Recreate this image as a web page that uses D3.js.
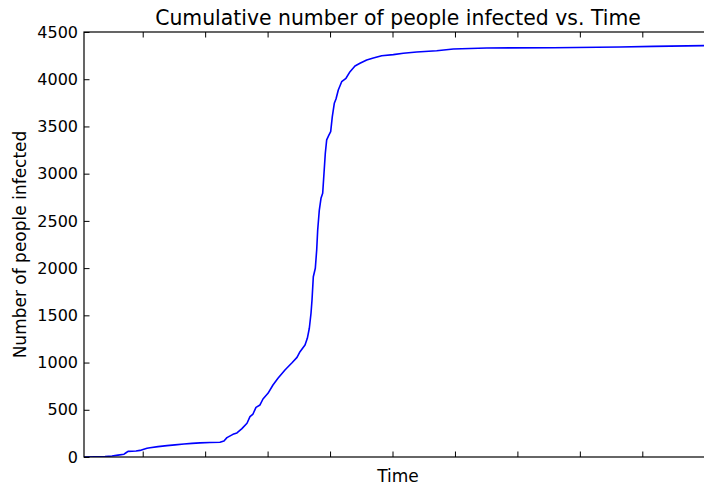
<!DOCTYPE html>
<html>
<head>
<meta charset="utf-8">
<script src="https://cdn.jsdelivr.net/npm/d3@7"></script>
<style>
  html, body { margin: 0; padding: 0; background: #fff; overflow: hidden; }
  svg { display: block; font-family: "DejaVu Sans", sans-serif; }
</style>
</head>
<body>
<svg id="chart" width="704" height="487"></svg>
<script>
// Simulation time (arbitrary units) and cumulative infections
const time = [0.60, 2.36, 3.96, 5.08, 6.05, 7.01, 7.33, 7.65, 8.93, 9.57, 10.05, 10.69, 11.17,
  12.45, 13.89, 15.17, 16.61, 17.89, 19.17, 20.77, 22.37, 23.01, 23.49, 24.45, 25.09, 25.89,
  26.70, 27.18, 27.66, 28.14, 28.78, 29.26, 30.06, 30.86, 31.66, 32.78, 33.91, 34.71, 35.19,
  35.99, 36.36, 36.68, 36.95, 37.11, 37.32, 37.64, 37.86, 38.02, 38.28, 38.55, 38.82, 39.03,
  39.24, 39.46, 39.83, 40.10, 40.36, 40.68, 40.95, 41.32, 41.86, 42.55, 43.20, 43.99, 44.79,
  45.87, 46.93, 48.27, 50.13, 51.73, 53.88, 57.08, 59.74, 65.08, 75.75, 86.43, 91.76, 101.16];
const infected = [0, 2, 5, 10, 20, 30, 45, 60, 63, 70, 80, 92, 98,
  110, 120, 128, 137, 144, 150, 153, 156, 170, 205, 240, 255, 300,
  357, 427, 455, 526, 551, 614, 674, 762, 833, 921, 998, 1055, 1115,
  1186, 1257, 1363, 1522, 1662, 1909, 1998, 2192, 2404, 2615, 2739, 2792, 3004,
  3216, 3357, 3410, 3445, 3604, 3745, 3790, 3886, 3974, 4010, 4080, 4140, 4169,
  4204, 4225, 4249, 4260, 4275, 4288, 4302, 4320, 4331, 4334, 4341, 4348, 4357];
const xTicks = [10, 20, 30, 40, 50, 60, 70, 80, 90, 100];
const yTicks = [0, 500, 1000, 1500, 2000, 2500, 3000, 3500, 4000, 4500];

const titleText = "Cumulative number of people infected vs. Time";
const xLabel = "Time";
const yLabel = "Number of people infected";

const plotLeft = 84, plotRight = 712, plotTop = 32, plotBottom = 457;
const svg = d3.select("#chart");

const x = d3.scaleLinear().domain([0.6, 101.16]).range([plotLeft, plotRight]);
const y = d3.scaleLinear().domain([0, 4500]).range([plotBottom, plotTop]);

const data = time.map((t, i) => ({ t, v: infected[i] }));

svg.append("defs").append("clipPath").attr("id", "plot")
  .append("rect").attr("x", plotLeft).attr("y", plotTop)
  .attr("width", plotRight - plotLeft).attr("height", plotBottom - plotTop);

// Curve
svg.append("path")
  .datum(data)
  .attr("clip-path", "url(#plot)")
  .attr("fill", "none")
  .attr("stroke", "#0000ff")
  .attr("stroke-width", 1.6)
  .attr("stroke-linejoin", "round")
  .attr("d", d3.line().x(d => x(d.t)).y(d => y(d.v)));

const tickLen = 5.5;

// Left axis with labels, ticks pointing inward
const gl = svg.append("g").attr("transform", `translate(${plotLeft},0)`)
  .call(d3.axisLeft(y).tickValues(yTicks).tickFormat(d3.format("d"))
    .tickSizeInner(-tickLen).tickSizeOuter(0).tickPadding(6));
gl.select(".domain").remove();
gl.selectAll("text").attr("font-size", "16px").attr("fill", "#000")
  .attr("font-family", "DejaVu Sans, sans-serif");

// Right axis ticks only
const gr = svg.append("g").attr("transform", `translate(${plotRight},0)`)
  .call(d3.axisRight(y).tickValues(yTicks).tickFormat("")
    .tickSizeInner(-tickLen).tickSizeOuter(0));
gr.select(".domain").remove();

// Bottom axis: ticks, no labels
const gb = svg.append("g").attr("transform", `translate(0,${plotBottom})`)
  .call(d3.axisBottom(x).tickValues(xTicks).tickFormat("")
    .tickSizeInner(-tickLen).tickSizeOuter(0));
gb.select(".domain").remove();

// Top axis: ticks, no labels
const gt = svg.append("g").attr("transform", `translate(0,${plotTop})`)
  .call(d3.axisTop(x).tickValues(xTicks).tickFormat("")
    .tickSizeInner(-tickLen).tickSizeOuter(0));
gt.select(".domain").remove();

svg.selectAll(".tick line").attr("stroke", "#000").attr("stroke-width", 1);

// Frame
svg.append("rect")
  .attr("x", plotLeft).attr("y", plotTop)
  .attr("width", plotRight - plotLeft).attr("height", plotBottom - plotTop)
  .attr("fill", "none").attr("stroke", "#000").attr("stroke-width", 1.2);

// Title and axis labels
svg.append("text")
  .attr("x", (plotLeft + plotRight) / 2).attr("y", 25)
  .attr("text-anchor", "middle").attr("font-size", "20.4px")
  .text(titleText);

svg.append("text")
  .attr("x", (plotLeft + plotRight) / 2).attr("y", 482)
  .attr("text-anchor", "middle").attr("font-size", "17px")
  .text(xLabel);

svg.append("text")
  .attr("transform", `translate(26,${(plotTop + plotBottom) / 2}) rotate(-90)`)
  .attr("text-anchor", "middle").attr("font-size", "17px")
  .text(yLabel);
</script>
</body>
</html>
